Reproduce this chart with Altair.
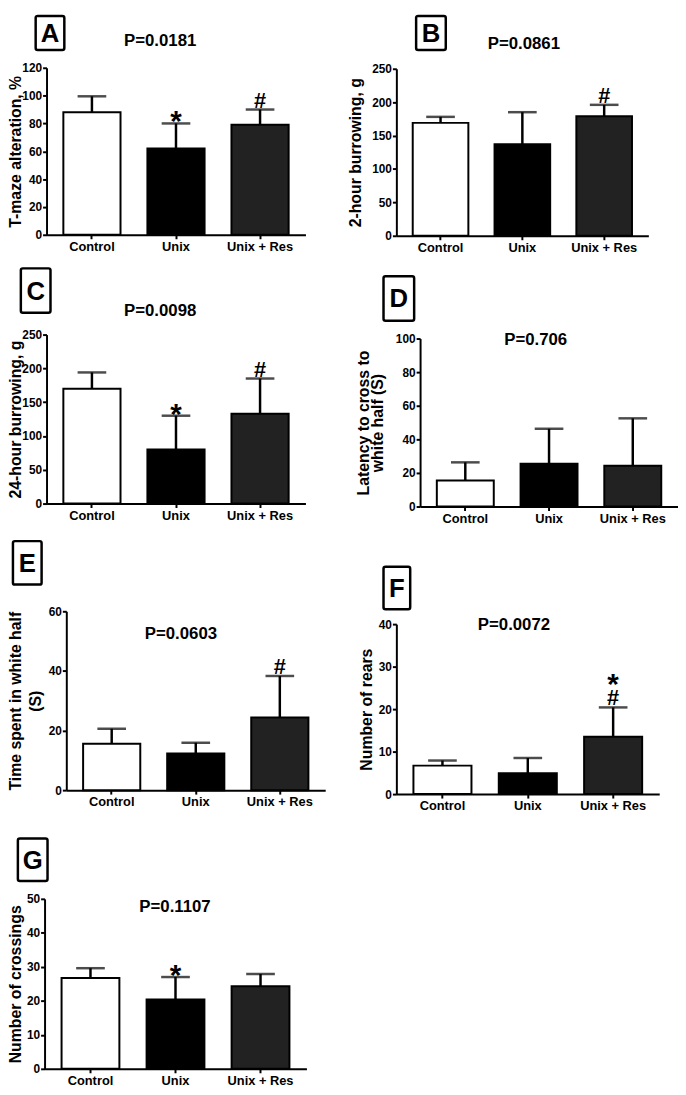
import altair as alt
import pandas as pd

FONT = "Liberation Sans"
W, H = 678, 1087

groups = ["Control", "Unix", "Unix + Res"]
bar_colors = ["white", "black", "#222222"]

# A: T-maze alteration, %
tmaze_mean = [88, 62, 79]
tmaze_sd = [11.5, 18, 11]
tmaze_sig = ["", "*", "#"]
# B: 2-hour burrowing, g
burrow2_mean = [169, 137, 179]
burrow2_sd = [9, 48, 17]
burrow2_sig = ["", "", "#"]
# C: 24-hour burrowing, g
burrow24_mean = [170, 80, 133]
burrow24_sd = [24, 50, 52]
burrow24_sig = ["", "*", "#"]
# D: latency to cross to white half (S)
latency_mean = [15.5, 25.5, 24.3]
latency_sd = [10.8, 20.8, 28.2]
latency_sig = ["", "", ""]
# E: time spent in white half (S)
white_mean = [15.6, 12.3, 24.4]
white_sd = [5.0, 3.6, 13.9]
white_sig = ["", "", "#"]
# F: number of rears
rears_mean = [6.7, 4.9, 13.5]
rears_sd = [1.2, 3.6, 6.9]
rears_sig = ["", "", "*#"]
# G: number of crossings
cross_mean = [26.7, 20.4, 24.3]
cross_sd = [2.9, 6.6, 3.6]
cross_sig = ["", "*", ""]

panel_letters = ["A", "B", "C", "D", "E", "F", "G"]
p_values = ["P=0.0181", "P=0.0861", "P=0.0098", "P=0.706", "P=0.0603", "P=0.0072", "P=0.1107"]
y_titles = [
    "T-maze alteration, %",
    "2-hour burrowing, g",
    "24-hour burrowing, g",
    ["Latency to cross to", "white half (S)"],
    ["Time spent in white half", "(S)"],
    "Number of rears",
    "Number of crossings",
]
y_ticks = [
    [0, 20, 40, 60, 80, 100, 120],
    [0, 50, 100, 150, 200, 250],
    [0, 50, 100, 150, 200, 250],
    [0, 20, 40, 60, 80, 100],
    [0, 20, 40, 60],
    [0, 10, 20, 30, 40],
    [0, 10, 20, 30, 40, 50],
]
means = [tmaze_mean, burrow2_mean, burrow24_mean, latency_mean, white_mean, rears_mean, cross_mean]
sds = [tmaze_sd, burrow2_sd, burrow24_sd, latency_sd, white_sd, rears_sd, cross_sd]
sigs = [tmaze_sig, burrow2_sig, burrow24_sig, latency_sig, white_sig, rears_sig, cross_sig]

# Layout (pixels): plot x-range, y-range (bottom, top), letter box, P-label centre,
# y-title baseline x (first line), title line height
LAYOUT = {
    "A": dict(x=(39, 301), y=(223, 54), box=(28, 57, 1.5, 36), p=(154, 27), tx=12.5, tlh=None),
    "B": dict(x=(393, 648), y=(224, 55), box=(413, 443, 1.5, 36), p=(522, 30), tx=357, tlh=None),
    "C": dict(x=(39, 301), y=(495, 324), box=(13, 43, 257, 302), p=(154, 300), tx=12.5, tlh=None),
    "D": dict(x=(417, 678), y=(498, 328), box=(380, 411, 265, 310), p=(534, 330), tx=365, tlh=14),
    "E": dict(x=(59, 321), y=(785, 604), box=(5, 34, 533, 577), p=(175, 627), tx=12.5, tlh=20),
    "F": dict(x=(393, 659), y=(789, 617), box=(380, 407, 559, 602), p=(512, 618), tx=368, tlh=None),
    "G": dict(x=(37, 302), y=(1067, 895), box=(10, 40, 834, 877), p=(169, 903), tx=12.5, tlh=None),
}


def make_panel(i):
    letter = panel_letters[i]
    L = LAYOUT[letter]
    df = pd.DataFrame({
        "group": groups,
        "mean": means[i],
        "top": [m + s for m, s in zip(means[i], sds[i])],
        "sig": sigs[i],
    })
    x0, x1 = L["x"]
    yb, yt = L["y"]
    xscale = alt.Scale(domain=groups, range=[x0, x1], paddingInner=0.32, paddingOuter=0.2)
    xaxis = alt.Axis(title=None, orient="bottom", offset=yb - H, labelAngle=0,
                     labelFontSize=13, labelPadding=2)
    yscale = alt.Scale(domain=[0, y_ticks[i][-1]], range=[yb, yt], nice=False, zero=True)
    ykw = dict(title=y_titles[i], orient="left", offset=-x0, values=y_ticks[i],
               titleX=L["tx"] - x0, titleY=(yb + yt) / 2, titleAngle=270,
               titleBaseline="alphabetic", titleAlign="center", labelPadding=1)
    if L["tlh"] is not None:
        ykw["titleLineHeight"] = L["tlh"]
    yaxis = alt.Axis(**ykw)

    X = alt.X("group:N", scale=xscale, axis=xaxis, sort=groups)

    def Y(f):
        return alt.Y(f"{f}:Q", scale=yscale, axis=yaxis)

    base = alt.Chart(df)
    bars = base.mark_bar(stroke="black", strokeWidth=2).encode(
        x=X, y=Y("mean"),
        fill=alt.Fill("group:N", scale=alt.Scale(domain=groups, range=bar_colors), legend=None),
    )
    err = base.mark_rule(color="black", strokeWidth=2.5).encode(x=X, y=Y("mean"), y2="top:Q")
    cap = base.mark_tick(color="black", size=29, thickness=2.5).encode(x=X, y=Y("top"))
    txt = dict(font=FONT, fontWeight="bold", color="black", baseline="alphabetic", align="center")
    hash_ = base.transform_filter("indexof(datum.sig, '#') >= 0").mark_text(
        text="#", fontSize=22, dy=-2, **txt).encode(x=X, y=Y("top"))
    star = base.transform_filter("datum.sig == '*'").mark_text(
        text="*", fontSize=30, dy=8, **txt).encode(x=X, y=Y("top"))
    star2 = base.transform_filter("datum.sig == '*#'").mark_text(
        text="*", fontSize=30, dy=-14, **txt).encode(x=X, y=Y("top"))

    deco = alt.Chart(pd.DataFrame({"letter": [letter], "p": [p_values[i]]}))
    bx0, bx1, by0, by1 = L["box"]
    box = deco.mark_rect(fill="white", stroke="black", strokeWidth=2.5, cornerRadius=2).encode(
        x=alt.value(bx0), x2=alt.value(bx1), y=alt.value(by0), y2=alt.value(by1))
    ltr = deco.mark_text(font=FONT, fontWeight="bold", fontSize=26, color="black",
                         baseline="middle", align="center").encode(
        x=alt.value((bx0 + bx1) / 2), y=alt.value((by0 + by1) / 2 + 1), text="letter:N")
    px, py = L["p"]
    ptxt = deco.mark_text(font=FONT, fontWeight="bold", fontSize=17, color="black",
                          baseline="middle", align="center").encode(
        x=alt.value(px), y=alt.value(py), text="p:N")
    return alt.layer(bars, err, cap, hash_, star, star2, box, ltr, ptxt)


panels = [make_panel(i) for i in range(7)]

chart = (
    alt.layer(*panels)
    .resolve_scale(x="independent", y="independent")
    .resolve_axis(x="independent", y="independent")
    .properties(width=W, height=H, padding=0, autosize=alt.AutoSizeParams(type="none"),
                background="white")
    .configure_view(stroke=None)
    .configure_axis(
        domainColor="black", domainWidth=2, tickColor="black", tickWidth=2, tickSize=4,
        labelColor="black", labelFont=FONT, labelFontWeight="bold", labelFontSize=12,
        titleFont=FONT, titleFontWeight="bold", titleFontSize=16, titleColor="black",
        grid=False, labelPadding=2,
    )
)

chart.save("out.html", embed_options={"renderer": "svg", "actions": False})
